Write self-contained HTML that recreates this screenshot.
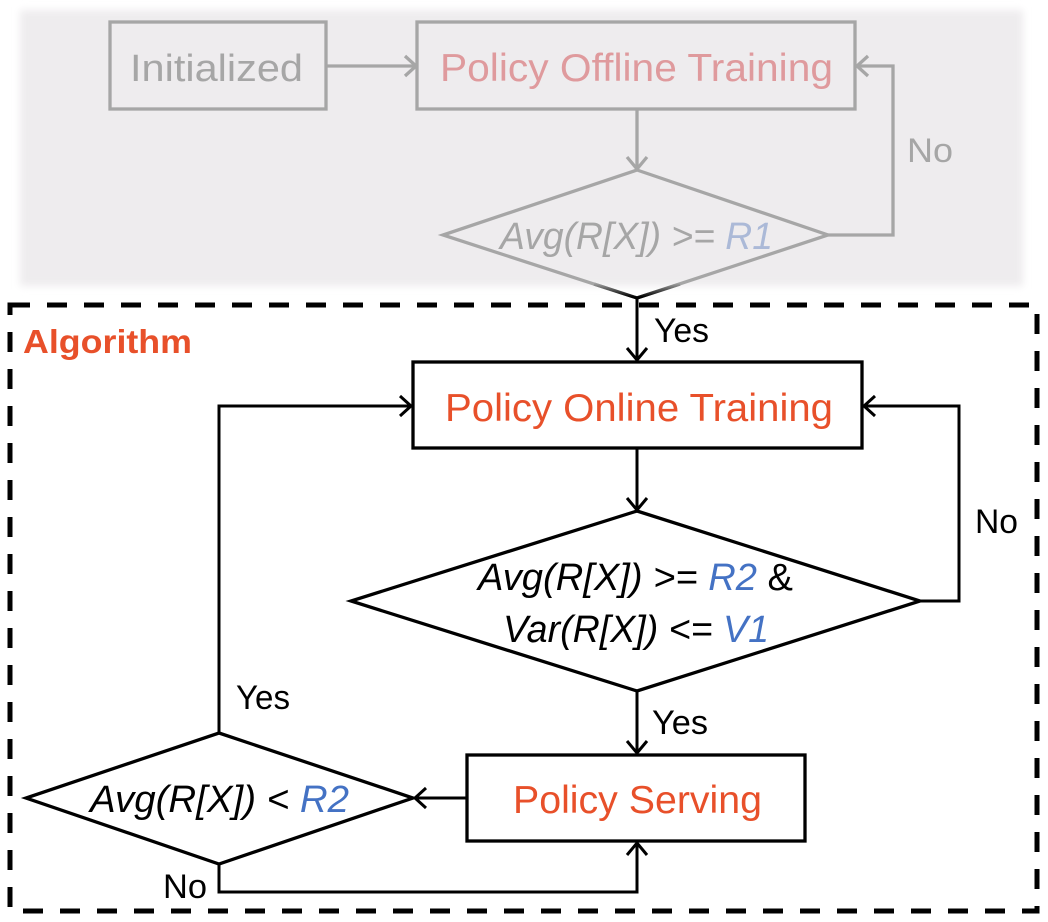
<!DOCTYPE html>
<html>
<head>
<meta charset="utf-8">
<style>
html,body{margin:0;padding:0;background:#fff;}
svg{display:block;}
text{font-family:"Liberation Sans",sans-serif;}
.it{font-style:italic;}
</style>
</head>
<body>
<svg width="1048" height="922" viewBox="0 0 1048 922" xmlns="http://www.w3.org/2000/svg">
<defs>
  <filter id="blur" x="-5%" y="-10%" width="110%" height="120%">
    <feGaussianBlur stdDeviation="4"/>
  </filter>
  <linearGradient id="vg" gradientUnits="userSpaceOnUse" x1="0" y1="283" x2="0" y2="297">
    <stop offset="0" stop-color="#a6a6a6"/>
    <stop offset="1" stop-color="#000"/>
  </linearGradient>
</defs>

<!-- gray background region -->
<rect x="20" y="10" width="1003" height="276" fill="#eeecee" filter="url(#blur)"/>

<!-- ===== gray top part ===== -->
<g fill="none" stroke="#a6a6a6" stroke-width="3.3">
  <rect x="110" y="22" width="216" height="87"/>
  <rect x="417" y="22" width="438" height="87"/>
  <polygon points="637,170 828,235 637,298 443,235"/>
  <line x1="327" y1="66" x2="416" y2="66"/>
  <polyline points="405,56 416,66 405,76"/>
  <line x1="637" y1="109" x2="637" y2="169"/>
  <polyline points="627,157 637,169 647,157"/>
  <polyline points="828,235 893,235 893,66 857,66"/>
  <polyline points="868,56 857,66 868,76"/>
</g>
<polyline points="594,284 637,298 680,284" fill="none" stroke="url(#vg)" stroke-width="3.3"/>

<text x="130" y="81" font-size="38" fill="#a6a6a6" textLength="173" lengthAdjust="spacingAndGlyphs">Initialized</text>
<text x="440" y="81" font-size="39" fill="#df9a9d" textLength="393" lengthAdjust="spacingAndGlyphs">Policy Offline Training</text>
<text x="907" y="162" font-size="34" fill="#a6a6a6" textLength="46" lengthAdjust="spacingAndGlyphs">No</text>
<text x="500" y="249" font-size="38" class="it" fill="#a6a6a6" textLength="273" lengthAdjust="spacingAndGlyphs">Avg(R[X]) &gt;= <tspan fill="#abb9d7">R1</tspan></text>

<!-- ===== dashed algorithm frame ===== -->
<rect x="10" y="305" width="1027" height="606" fill="none" stroke="#000" stroke-width="5" stroke-dasharray="20 17"/>
<text x="23" y="353" font-size="33" font-weight="bold" fill="#e8502a" textLength="169" lengthAdjust="spacingAndGlyphs">Algorithm</text>

<!-- ===== main black part ===== -->
<g fill="none" stroke="#000" stroke-width="3.3">
  <rect x="413" y="362" width="449" height="86" fill="#fff"/>
  <polygon points="637,511 920,601 637,691 351,601" fill="#fff"/>
  <rect x="467" y="755" width="338" height="86" fill="#fff"/>
  <polygon points="219,733 413,798 219,864 26,798" fill="#fff"/>
</g>
<g fill="none" stroke="#000" stroke-width="3">
  <line x1="637" y1="298" x2="637" y2="360"/>
  <polyline points="627,348 637,360 647,348"/>
  <line x1="637" y1="448" x2="637" y2="510"/>
  <polyline points="627,498 637,510 647,498"/>
  <polyline points="920,601 959,601 959,406 864,406"/>
  <polyline points="875,396 864,406 875,416"/>
  <line x1="637" y1="691" x2="637" y2="753"/>
  <polyline points="627,741 637,753 647,741"/>
  <line x1="467" y1="798" x2="415" y2="798"/>
  <polyline points="426,788 415,798 426,808"/>
  <polyline points="219,733 219,406 411,406"/>
  <polyline points="400,396 411,406 400,416"/>
  <polyline points="219,864 219,892 637,892 637,843"/>
  <polyline points="627,855 637,843 647,855"/>
</g>

<text x="445" y="421" font-size="39" fill="#e8502a" textLength="388" lengthAdjust="spacingAndGlyphs">Policy Online Training</text>
<text x="513" y="813" font-size="39" fill="#e8502a" textLength="249" lengthAdjust="spacingAndGlyphs">Policy Serving</text>

<text x="478" y="590" font-size="38" class="it" fill="#000" textLength="315" lengthAdjust="spacingAndGlyphs">Avg(R[X]) &gt;= <tspan fill="#4472c4">R2</tspan><tspan font-style="normal"> &amp;</tspan></text>
<text x="503" y="642" font-size="38" class="it" fill="#000" textLength="266" lengthAdjust="spacingAndGlyphs">Var(R[X]) &lt;= <tspan fill="#4472c4">V1</tspan></text>
<text x="90" y="812" font-size="38" class="it" fill="#000" textLength="259" lengthAdjust="spacingAndGlyphs">Avg(R[X]) &lt; <tspan fill="#4472c4">R2</tspan></text>

<text x="654" y="342" font-size="34" fill="#000" textLength="55" lengthAdjust="spacingAndGlyphs">Yes</text>
<text x="652" y="734" font-size="34" fill="#000" textLength="56" lengthAdjust="spacingAndGlyphs">Yes</text>
<text x="236" y="709" font-size="34" fill="#000" textLength="54" lengthAdjust="spacingAndGlyphs">Yes</text>
<text x="975" y="533" font-size="34" fill="#000" textLength="43" lengthAdjust="spacingAndGlyphs">No</text>
<text x="163" y="898" font-size="34" fill="#000" textLength="44" lengthAdjust="spacingAndGlyphs">No</text>
</svg>
</body>
</html>
